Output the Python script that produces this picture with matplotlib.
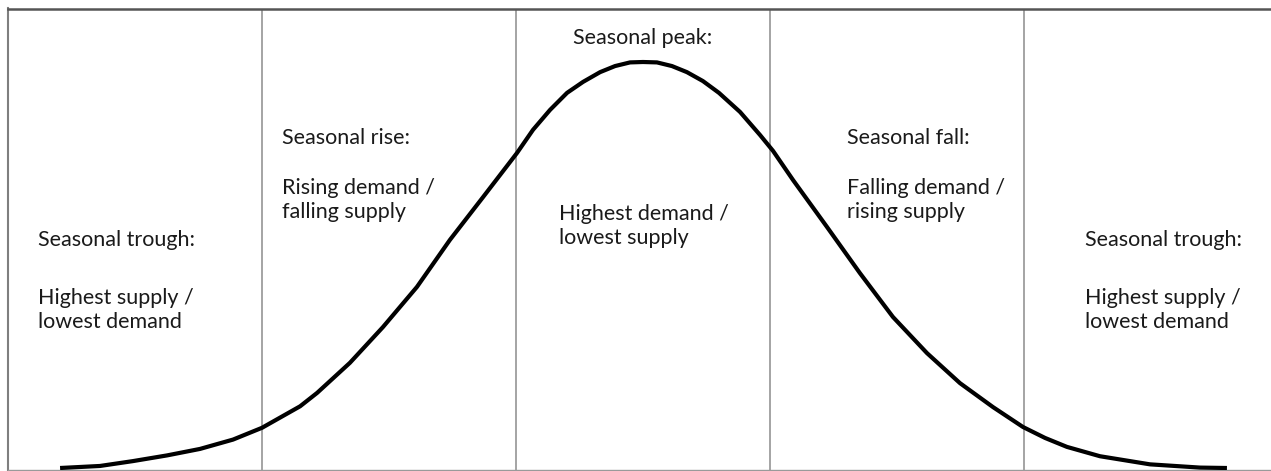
import matplotlib
matplotlib.use("Agg")
import matplotlib.pyplot as plt

# Curve readings (x: phase units, one unit per panel; y: % of seasonal peak)
curve_x = [0.205, 0.362, 0.492, 0.626, 0.756, 0.886, 1.000, 1.150, 1.217, 1.346,
           1.476, 1.610, 1.740, 1.870, 2.004, 2.067, 2.134, 2.201, 2.264, 2.331,
           2.390, 2.449, 2.500, 2.555, 2.614, 2.673, 2.736, 2.799, 2.882, 2.961,
           3.012, 3.091, 3.224, 3.354, 3.484, 3.618, 3.748, 3.878, 3.996, 4.083,
           4.169, 4.299, 4.496, 4.693, 4.799]
curve_y = [0.0, 0.5, 1.7, 3.1, 4.7, 7.0, 9.9, 15.2, 18.5, 25.9,
           34.7, 44.6, 56.2, 66.7, 77.6, 83.3, 88.2, 92.4, 95.1, 97.5,
           99.0, 99.9, 100.0, 99.9, 99.0, 97.5, 95.3, 92.4, 87.7, 82.0,
           78.1, 70.9, 59.4, 48.0, 37.2, 28.3, 20.9, 15.0, 10.1, 7.4,
           5.2, 2.9, 0.9, 0.1, 0.0]

# Panel boundaries
dividers = [1, 2, 3, 4]

headings = ["Seasonal trough:", "Seasonal rise:", "Seasonal peak:",
            "Seasonal fall:", "Seasonal trough:"]
bodies = [["Highest supply /", "lowest demand"],
          ["Rising demand /", "falling supply"],
          ["Highest demand /", "lowest supply"],
          ["Falling demand /", "rising supply"],
          ["Highest supply /", "lowest demand"]]

W, H = 1271, 471
fig = plt.figure(figsize=(W / 100, H / 100), dpi=100)
fig.patch.set_facecolor("white")

def fx(px):
    return px / W

def fy(py):
    return 1 - py / H

# axes spans px 8..1278 horizontally, 8.5..470 vertically
ax = fig.add_axes([fx(8), fy(470), (1278 - 8) / W, (470 - 8.5) / H])
ax.set_xlim(0, 5)
px_per_unit = (468 - 62) / 100
ax.set_ylim(-(470 - 468) / px_per_unit, (468 - 8.5) / px_per_unit)
ax.set_xticks([])
ax.set_yticks([])
ax.spines["right"].set_visible(False)
ax.spines["top"].set_color("#555555")
ax.spines["top"].set_linewidth(1.8)
ax.spines["left"].set_color("#7f7f7f")
ax.spines["left"].set_linewidth(1.5)
ax.spines["bottom"].set_color("#9a9a9a")
ax.spines["bottom"].set_linewidth(1.0)

for d in dividers:
    ax.axvline(d, color="#8c8c8c", lw=1.1, zorder=1)

ax.plot(curve_x, curve_y, color="black", lw=3.0, solid_joinstyle="round",
        solid_capstyle="butt", zorder=3)

font = dict(family=["Lato", "DejaVu Sans"], fontsize=15.5, color="#1a1a1a")

# text placement in pixel coords: (x_left, heading baseline), (x_left, body first baseline)
heading_pos = [(38, 246), (282, 144), (573, 44), (847, 144), (1085, 246)]
body_pos = [(38, 304), (282, 194), (559, 220), (847, 194), (1085, 304)]
line_step = 23.5

for h, (hx, hy), body, (bx, by) in zip(headings, heading_pos, bodies, body_pos):
    fig.text(fx(hx), fy(hy), h, ha="left", va="baseline", **font)
    for i, line in enumerate(body):
        fig.text(fx(bx), fy(by + i * line_step), line, ha="left", va="baseline", **font)

fig.savefig("out.png", dpi=100, facecolor="white")
